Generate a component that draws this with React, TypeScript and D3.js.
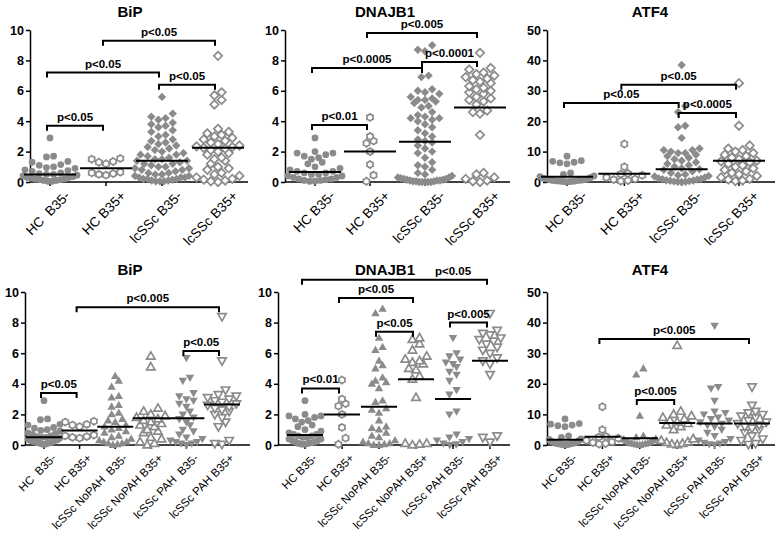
import React, { useEffect, useRef } from 'react';
import * as d3 from 'd3';

// ---- category labels ----
const catsTopBip = ['HC  B35-', 'HC B35+', 'lcSSc B35-', 'lcSSc B35+'];
const catsTop = ['HC B35-', 'HC B35+', 'lcSSc B35-', 'lcSSc B35+'];
const catsBotBip = ['HC  B35-', 'HC B35+', 'lcSSc NoPAH  B35-', 'lcSSc NoPAH B35+', 'lcSSc PAH  B35-', 'lcSSc PAH B35+'];
const catsBot = ['HC B35-', 'HC B35+', 'lcSSc NoPAH B35-', 'lcSSc NoPAH B35+', 'lcSSc PAH B35-', 'lcSSc PAH B35+'];

const titles = ['BiP', 'DNAJB1', 'ATF4', 'BiP', 'DNAJB1', 'ATF4'];
const yMaxes = [10, 10, 50, 10, 10, 50];
const tickSteps = [2, 2, 10, 2, 2, 10];

// ---- BiP ----
const bipHcNeg = [2.9, 1.7, 1.65, 1.35, 1.3, 1.15, 1.1, 1.0, 0.95, 0.9, 0.8, 0.75, 0.7, 0.6, 0.55, 0.5, 0.5, 0.45, 0.4, 0.35, 0.3, 0.3, 0.25, 0.2, 0.2, 0.15, 0.15, 0.1, 0.1, 0.05, 0.05];
const bipHcPos = [1.55, 1.5, 1.35, 1.3, 1.2, 0.65, 0.6, 0.55, 0.5, 0.45];
const bipLcNeg = [5.6, 4.5, 4.3, 4.2, 4.1, 3.9, 3.8, 3.7, 3.6, 3.4, 3.3, 3.1, 3.0, 2.8, 2.7, 2.6, 2.5, 2.4, 2.3, 2.2, 2.1, 2.0, 1.9, 1.8, 1.8, 1.7, 1.6, 1.5, 1.5, 1.4, 1.4, 1.3, 1.2, 1.2, 1.1, 1.0, 1.0, 0.9, 0.9, 0.8, 0.8, 0.7, 0.6, 0.6, 0.5, 0.5, 0.4, 0.4, 0.3, 0.3, 0.3, 0.2, 0.2, 0.2, 0.15, 0.1, 0.1, 0.05, 0.05, 0.05];
const bipLcPos = [8.3, 5.9, 5.7, 5.4, 5.1, 3.5, 3.3, 3.2, 3.1, 3.0, 2.9, 2.8, 2.7, 2.6, 2.5, 2.4, 2.35, 2.3, 2.25, 2.2, 2.1, 2.0, 1.9, 1.8, 1.6, 1.5, 1.4, 1.2, 1.0, 0.9, 0.8, 0.6, 0.5, 0.4, 0.3, 0.2, 0.15, 0.1, 0.05, 0.0];
const bipNoPahNeg = [4.5, 4.2, 3.8, 3.2, 3.1, 2.6, 2.5, 2.1, 2.0, 1.7, 1.6, 1.5, 1.3, 1.2, 1.1, 1.0, 0.9, 0.8, 0.6, 0.5, 0.4, 0.3, 0.2, 0.2, 0.1, 0.1, 0.05, 0.0];
const bipNoPahPos = [5.8, 5.1, 2.4, 2.2, 2.0, 1.9, 1.8, 1.7, 1.6, 1.5, 1.4, 1.3, 1.2, 1.0, 0.9, 0.8, 0.5, 0.4, 0.2, 0.1, 0.0];
const bipPahNeg = [5.7, 4.4, 4.2, 3.4, 3.2, 3.0, 2.9, 2.7, 2.5, 2.2, 2.0, 1.8, 1.7, 1.5, 1.3, 1.0, 0.9, 0.7, 0.5, 0.4, 0.3, 0.2, 0.2, 0.1, 0.1, 0.0];
const bipPahPos = [8.4, 5.5, 3.6, 3.3, 3.2, 3.1, 3.0, 2.9, 2.8, 2.7, 2.6, 2.5, 2.4, 2.3, 2.2, 2.0, 1.8, 1.5, 1.2, 0.3, 0.1, 0.05];

// ---- DNAJB1 ----
const dnaHcNeg = [2.9, 2.0, 1.9, 1.9, 1.8, 1.7, 1.6, 1.5, 1.3, 1.2, 1.0, 0.9, 0.8, 0.7, 0.7, 0.6, 0.6, 0.5, 0.5, 0.4, 0.4, 0.3, 0.3, 0.2, 0.2, 0.15, 0.1, 0.1, 0.05, 0.05];
const dnaHcPos = [4.25, 3.0, 2.7, 2.55, 2.0, 1.15, 0.45, 0.05];
const dnaLcNeg = [9.0, 8.7, 8.6, 7.0, 6.9, 6.1, 6.0, 5.9, 5.8, 5.6, 5.5, 5.4, 5.4, 5.3, 5.2, 5.0, 4.9, 4.6, 4.4, 4.3, 4.2, 4.2, 4.1, 4.0, 3.8, 3.6, 3.4, 3.2, 3.0, 2.8, 2.7, 2.6, 2.4, 2.2, 2.0, 1.9, 1.6, 1.3, 1.1, 1.0, 0.8, 0.6, 0.5, 0.4, 0.3, 0.3, 0.25, 0.2, 0.2, 0.15, 0.15, 0.1, 0.1, 0.1, 0.05, 0.05, 0.05, 0.0, 0.0, 0.0, 0.0, 0.0];
const dnaLcPos = [8.5, 7.5, 7.4, 7.2, 7.1, 7.0, 6.9, 6.8, 6.7, 6.6, 6.5, 6.3, 6.2, 6.1, 6.0, 5.9, 5.8, 5.6, 5.5, 5.4, 5.3, 5.1, 4.7, 4.6, 4.5, 3.1, 0.6, 0.5, 0.3, 0.2, 0.1, 0.05, 0.0];
const dnaNoPahNeg = [8.9, 8.6, 7.0, 6.4, 6.2, 5.5, 5.2, 5.0, 4.4, 4.2, 4.1, 4.0, 3.7, 2.9, 2.8, 2.4, 2.3, 2.1, 1.6, 1.2, 1.1, 1.0, 0.8, 0.6, 0.5, 0.3, 0.2, 0.1, 0.1, 0.05, 0.0, 0.0];
const dnaNoPahPos = [7.0, 6.9, 6.6, 6.2, 5.8, 5.6, 5.5, 5.4, 5.3, 5.0, 4.9, 4.5, 4.3, 3.1, 0.1, 0.1, 0.05, 0.0];
const dnaPahNeg = [7.0, 6.0, 5.8, 5.6, 5.4, 5.3, 5.1, 4.8, 4.6, 4.2, 3.6, 3.3, 2.2, 2.0, 0.7, 0.5, 0.4, 0.3, 0.2, 0.1, 0.05, 0.0];
const dnaPahPos = [8.6, 7.5, 7.3, 7.2, 7.0, 6.9, 6.8, 6.6, 6.4, 6.2, 6.0, 5.7, 5.5, 5.3, 4.6, 0.6, 0.5, 0.2];

// ---- ATF4 ----
const atfHcNeg = [8.5, 7.0, 6.8, 6.5, 6.3, 6.0, 3.0, 2.5, 2.0, 1.8, 1.5, 1.2, 1.0, 1.0, 0.8, 0.7, 0.6, 0.5, 0.5, 0.4, 0.3, 0.3, 0.2, 0.2, 0.1, 0.1];
const atfHcPos = [12.5, 5.0, 2.8, 2.6, 2.2, 1.5, 1.0, 0.8, 0.5, 0.3];
const atfLcNeg = [38.5, 25, 23, 18.5, 18, 14.5, 11, 10.5, 10.5, 10, 9.5, 9.5, 9, 8.5, 8, 7.5, 7, 6.5, 6, 5.5, 5, 4.5, 4.2, 4, 3.5, 3, 2.5, 2.2, 2, 1.8, 1.5, 1.2, 1, 0.9, 0.8, 0.6, 0.5, 0.4, 0.3, 0.2, 0.1, 0.1, 0.0];
const atfLcPos = [32.5, 18.5, 12, 11, 10.5, 10, 9.5, 9, 8.5, 8, 7.5, 7, 6.8, 6.5, 6, 5.5, 5, 4.5, 4, 3.5, 3, 2.5, 2, 1.5, 1, 0.8, 0.5, 0.3];
const atfNoPahNeg = [25, 23, 9.5, 3.0, 2.5, 2.0, 1.8, 1.5, 1.2, 1.0, 0.8, 0.6, 0.5, 0.4, 0.3, 0.2, 0.1, 0.0];
const atfNoPahPos = [32.5, 11, 10, 9.5, 9, 8.5, 8, 7.5, 7, 6.5, 6, 5, 2, 1.5, 1, 0.8, 0.5, 0.3, 0.1];
const atfPahNeg = [39, 19, 18.5, 14.5, 11, 10.5, 10, 9, 8.5, 8, 7.5, 7, 6.5, 6, 5, 4, 3, 2, 1.5, 1, 0.8, 0.5, 0.3, 0.1];
const atfPahPos = [19, 13, 11, 10.5, 10, 9.5, 9, 8, 7.5, 7, 6.5, 6, 5.5, 5, 4, 3, 2, 1.5, 0.5, 0.2];

// ---- medians (horizontal bars) ----
const mediansBipTop = [0.5, 0.9, 1.4, 2.25];
const mediansDnaTop = [0.65, 2.0, 2.65, 4.9];
const mediansAtfTop = [1.7, 2.7, 4.2, 7.0];
const mediansBipBot = [0.5, 0.95, 1.2, 1.75, 1.75, 2.65];
const mediansDnaBot = [0.65, 2.0, 2.5, 4.3, 3.0, 5.5];
const mediansAtfBot = [1.7, 2.7, 2.2, 7.2, 7.0, 7.0];

// ---- significance brackets: [from, to, value, label, labelOver?] ----
type Bracket = [number, number, number, string, number?];
const bracketsBipTop: Bracket[] = [[0, 1, 3.7, 'p<0.05'], [0, 2, 7.2, 'p<0.05'], [1, 3, 9.3, 'p<0.05'], [2, 3, 6.4, 'p<0.05']];
const bracketsDnaTop: Bracket[] = [[0, 1, 3.75, 'p<0.01'], [0, 2, 7.5, 'p<0.0005'], [1, 3, 9.8, 'p<0.005'], [2, 3, 7.9, 'p<0.0001']];
const bracketsAtfTop: Bracket[] = [[0, 2, 26, 'p<0.05'], [1, 3, 32, 'p<0.05'], [2, 3, 22.7, 'p<0.0005']];
const bracketsBipBot: Bracket[] = [[0, 1, 3.4, 'p<0.05'], [1, 5, 9.0, 'p<0.005'], [4, 5, 6.15, 'p<0.05']];
const bracketsDnaBot: Bracket[] = [[0, 1, 3.7, 'p<0.01'], [1, 3, 9.6, 'p<0.05'], [2, 3, 7.4, 'p<0.05'], [4, 5, 8.0, 'p<0.005'], [0, 5, 10.8, 'p<0.05', 4]];
const bracketsAtfBot: Bracket[] = [[1, 5, 34.6, 'p<0.005'], [2, 3, 14.7, 'p<0.005']];

const shapesTop = ['circle', 'hex', 'diamond', 'diamondOpen'];
const shapesBot = ['circle', 'hex', 'triUp', 'triUpOpen', 'triDown', 'triDownOpen'];

// panel frames (pixels)
const frames = [
  { x0: 30, x1: 248, c0: 50, c1: 218, yb: 182, yt: 30, tx: 130, ty: 17, fs: 13.5, lx: 14, half: 27, ml: 26 },
  { x0: 285, x1: 510, c0: 315, c1: 480, yb: 182, yt: 30, tx: 385, ty: 17, fs: 13.5, lx: 14, half: 27, ml: 26 },
  { x0: 547, x1: 775, c0: 567, c1: 739, yb: 182, yt: 30, tx: 650, ty: 17, fs: 13.5, lx: 14, half: 27, ml: 26 },
  { x0: 25, x1: 250, c0: 44, c1: 222, yb: 445, yt: 292, tx: 130, ty: 275, fs: 11.5, lx: 7, half: 16, ml: 18 },
  { x0: 278, x1: 510, c0: 305, c1: 490, yb: 445, yt: 292, tx: 385, ty: 275, fs: 11.5, lx: 7, half: 16, ml: 18 },
  { x0: 547, x1: 775, c0: 565, c1: 752, yb: 445, yt: 292, tx: 650, ty: 275, fs: 11.5, lx: 7, half: 16, ml: 18 },
];

const GREY = '#8b8b8b';
const FONT = "'Liberation Sans', Arial, sans-serif";

function shapePath(kind: string): string {
  if (kind === 'circle') return d3.symbol(d3.symbolCircle, 36)()!;
  if (kind.startsWith('diamond')) { const r = 4.2; return `M0,${-r}L${r},0L0,${r}L${-r},0Z`; }
  if (kind.startsWith('triUp')) return 'M0,-4.4L4.2,2.9L-4.2,2.9Z';
  if (kind.startsWith('triDown')) return 'M0,4.4L4.2,-2.9L-4.2,-2.9Z';
  // hexagonal "flower"
  const pts: [number, number][] = d3.range(12).map(i => {
    const a = (i * Math.PI) / 6;
    const r = i % 2 ? 2.9 : 3.6;
    return [r * Math.sin(a), -r * Math.cos(a)];
  });
  return d3.line().curve(d3.curveLinearClosed)(pts)!;
}

function swarm(values: number[], cx: number, y: d3.ScaleLinear<number, number>, s: number, maxHalf: number) {
  const pts = values.map(v => y(Math.max(0, v))).sort((a, b) => b - a);
  const out: { x: number; y: number }[] = [];
  let i = 0;
  while (i < pts.length) {
    const start = pts[i];
    const row: number[] = [];
    while (i < pts.length && start - pts[i] < s) { row.push(pts[i]); i++; }
    const k = row.length;
    const gap = k > 1 ? Math.min(s * 1.1, (2 * maxHalf) / (k - 1)) : 0;
    // lowest in the middle, then alternate outwards
    const slots = d3.range(k).map(j => j - (k - 1) / 2).sort((a, b) => Math.abs(a) - Math.abs(b) || a - b);
    row.forEach((py, j) => out.push({ x: cx + slots[j] * gap, y: py }));
  }
  return out;
}

const App: React.FC = () => {
  const ref = useRef<SVGSVGElement>(null);

  useEffect(() => {
    if (!ref.current) return;
    const svg = d3.select(ref.current);
    svg.selectAll('*').remove();

    const groups = [
      [bipHcNeg, bipHcPos, bipLcNeg, bipLcPos],
      [dnaHcNeg, dnaHcPos, dnaLcNeg, dnaLcPos],
      [atfHcNeg, atfHcPos, atfLcNeg, atfLcPos],
      [bipHcNeg, bipHcPos, bipNoPahNeg, bipNoPahPos, bipPahNeg, bipPahPos],
      [dnaHcNeg, dnaHcPos, dnaNoPahNeg, dnaNoPahPos, dnaPahNeg, dnaPahPos],
      [atfHcNeg, atfHcPos, atfNoPahNeg, atfNoPahPos, atfPahNeg, atfPahPos],
    ];
    const cats = [catsTopBip, catsTop, catsTop, catsBotBip, catsBot, catsBot];
    const medians = [mediansBipTop, mediansDnaTop, mediansAtfTop, mediansBipBot, mediansDnaBot, mediansAtfBot];
    const brackets = [bracketsBipTop, bracketsDnaTop, bracketsAtfTop, bracketsBipBot, bracketsDnaBot, bracketsAtfBot];

    frames.forEach((f, p) => {
      const g = svg.append('g').style('font-family', FONT);
      const y = d3.scaleLinear().domain([0, yMaxes[p]]).range([f.yb, f.yt]);
      const x = d3.scalePoint<string>().domain(cats[p]).range([f.c0, f.c1]);
      const shapes = p < 3 ? shapesTop : shapesBot;

      g.append('text').attr('x', f.tx).attr('y', f.ty).attr('text-anchor', 'middle')
        .style('font-size', '15px').style('font-weight', 'bold').text(titles[p]);

      // y axis
      const yAxis = d3.axisLeft(y).tickValues(d3.range(0, yMaxes[p] + 0.001, tickSteps[p]))
        .tickSize(4).tickSizeOuter(0).tickPadding(2);
      const ya = g.append('g').attr('transform', `translate(${f.x0},0)`).call(yAxis);
      ya.select('.domain').attr('stroke', '#000').attr('stroke-width', 1.5);
      ya.selectAll('.tick line').attr('stroke', '#000').attr('stroke-width', 1.5);
      ya.selectAll('.tick text').style('font-size', '12.5px').style('font-weight', 'bold')
        .style('font-family', FONT).attr('fill', '#000');

      // x axis
      g.append('line').attr('x1', f.x0).attr('x2', f.x1).attr('y1', f.yb).attr('y2', f.yb)
        .attr('stroke', '#000').attr('stroke-width', 1.5);
      cats[p].forEach(c => {
        const cx = x(c)!;
        g.append('line').attr('x1', cx).attr('x2', cx).attr('y1', f.yb).attr('y2', f.yb + 4)
          .attr('stroke', '#000').attr('stroke-width', 1.5);
        g.append('text')
          .attr('transform', `translate(${cx + f.lx},${f.yb + 8}) rotate(-45)`)
          .attr('text-anchor', 'end').attr('dy', '0.7em')
          .style('font-size', `${f.fs}px`).style('white-space', 'pre')
          .text(c);
      });

      // points
      groups[p].forEach((vals, gi) => {
        const cx = x(cats[p][gi])!;
        const kind = shapes[gi];
        const open = kind.endsWith('Open') || kind === 'hex';
        const d = shapePath(kind);
        swarm(vals, cx, y, 6.5, f.half).forEach(pt => {
          g.append('path').attr('d', d).attr('transform', `translate(${pt.x},${pt.y})`)
            .attr('fill', open ? '#fff' : GREY)
            .attr('stroke', open ? GREY : 'none')
            .attr('stroke-width', open ? 1.7 : 0);
        });
      });

      // medians
      medians[p].forEach((m, gi) => {
        const cx = x(cats[p][gi])!;
        g.append('line').attr('x1', cx - f.ml).attr('x2', cx + f.ml).attr('y1', y(m)).attr('y2', y(m))
          .attr('stroke', '#000').attr('stroke-width', 2);
      });

      // brackets
      brackets[p].forEach(([a, b, v, label, over]) => {
        const xa = x(cats[p][a])! - 3;
        const xb = x(cats[p][b])! - 3;
        const yy = y(v);
        g.append('path').attr('d', `M${xa},${yy + 5}V${yy}H${xb}V${yy + 5}`)
          .attr('fill', 'none').attr('stroke', '#000').attr('stroke-width', 2);
        const lx = over !== undefined ? x(cats[p][over])! : (xa + xb) / 2;
        g.append('text').attr('x', lx).attr('y', yy - 5).attr('text-anchor', 'middle')
          .style('font-size', '11.5px').style('font-weight', 'bold').text(label);
      });
    });
  }, []);

  return (
    <svg ref={ref} width={778} height={536} style={{ position: 'absolute', left: 0, top: 0, background: '#fff' }} />
  );
};

export default App;
